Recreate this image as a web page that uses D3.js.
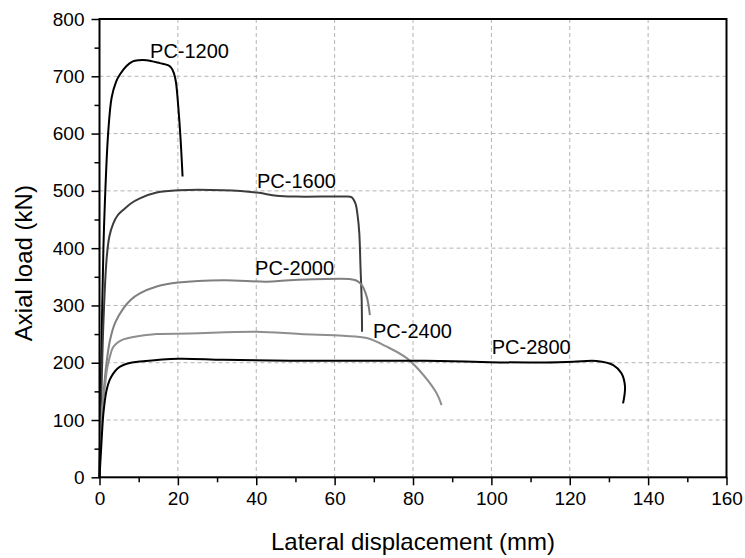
<!DOCTYPE html>
<html>
<head>
<meta charset="utf-8">
<script src="https://cdn.jsdelivr.net/npm/d3@7"></script>
<style>
  body { margin: 0; background: #fff; }
  text { font-family: "Liberation Sans", Arial, sans-serif; }
</style>
</head>
<body>
<div id="chart"></div>
<script>
// series data [lateral displacement (mm), axial load (kN)]
const pc1200 = [[0, 0], [0.4, 180], [0.7, 300], [1.0, 400], [1.4, 485], [2.2, 600], [3.1, 663], [4.2, 690], [5.2, 703],
  [6.9, 718], [8.5, 726], [10, 728], [12, 728], [15.4, 723], [17.6, 719], [18.4, 714], [19.0, 705], [19.5, 690],
  [20.1, 647], [20.7, 589], [21.2, 525]];
const pc1600 = [[0, 0], [0.5, 150], [1.0, 270], [1.8, 380], [2.5, 420], [3.5, 443], [4.6, 457], [6.1, 467], [8, 478],
  [10.3, 487], [14.6, 497], [20.1, 501], [31.6, 501], [40.1, 497], [45.2, 491.5], [50.3, 490], [62.2, 490],
  [64.3, 489], [65.3, 478], [65.9, 455], [66.3, 426], [66.6, 368], [66.9, 309], [67.0, 254]];
const pc2000 = [[0, 0], [0.6, 110], [1.2, 160], [1.8, 200], [2.7, 240], [4.0, 270], [6.1, 295], [8, 310], [10.3, 321],
  [14.6, 333], [20.1, 340], [31.6, 344], [42.6, 341.5], [48.6, 344], [63.9, 346], [65.4, 344], [66.9, 336],
  [68.2, 315], [69.0, 283]];
const pc2400 = [[0, 0], [0.6, 110], [1.4, 160], [2.0, 192], [2.7, 212], [3.4, 226], [4.4, 234], [5.8, 240], [8.6, 245],
  [14.6, 250], [23.1, 251], [40.1, 254], [51.2, 250], [62.2, 247], [68.2, 243], [73.3, 228], [78.4, 208],
  [82.6, 179], [86.0, 147], [87.3, 126]];
const pc2800 = [[0, 0], [0.5, 60], [1.0, 112], [1.8, 152], [2.6, 170], [3.5, 181], [4.6, 190], [6.1, 196], [8, 200],
  [10.3, 202], [20.1, 207], [31.6, 205], [48.6, 203.5], [74.1, 203.5], [86.9, 203], [99.6, 201], [112.4, 200.5],
  [120.9, 201.8], [126.8, 203], [131.1, 196], [133.2, 181.5], [134.1, 158], [133.6, 129]];

const seriesNames = ["PC-1200", "PC-1600", "PC-2000", "PC-2400", "PC-2800"];
const seriesData = [pc1200, pc1600, pc2000, pc2400, pc2800];
const seriesColors = ["#000000", "#3c3c3c", "#7f7f7f", "#8e8e8e", "#000000"];
// label anchors in data units
const labelX = [12.9, 40.2, 39.7, 69.8, 100.1];
const labelY = [732, 505, 353, 243, 216];

const xTicks = [0, 20, 40, 60, 80, 100, 120, 140, 160];
const yTicks = [0, 100, 200, 300, 400, 500, 600, 700, 800];

const W = 745, H = 558;
const margin = { top: 19, right: 18.5, bottom: 80.7, left: 99.5 },
      width = W - margin.left - margin.right,
      height = H - margin.top - margin.bottom;

const svg = d3.select("#chart")
              .append("svg")
              .attr("width", W)
              .attr("height", H)
              .append("g")
              .attr("transform", `translate(${margin.left},${margin.top})`);

const x = d3.scaleLinear().domain([0, 160]).range([0, width]);
const y = d3.scaleLinear().domain([0, 800]).range([height, 0]);

// grid
svg.append("g")
   .selectAll("line")
   .data(xTicks.slice(1, -1))
   .join("line")
   .attr("x1", d => x(d)).attr("x2", d => x(d))
   .attr("y1", 0).attr("y2", height)
   .attr("stroke", "#b4b4b4").attr("stroke-width", 1).attr("stroke-dasharray", "4,3");

svg.append("g")
   .selectAll("line")
   .data(yTicks.slice(1, -1))
   .join("line")
   .attr("y1", d => y(d)).attr("y2", d => y(d))
   .attr("x1", 0).attr("x2", width)
   .attr("stroke", "#b4b4b4").attr("stroke-width", 1).attr("stroke-dasharray", "4,3");

// curves
const line = d3.line()
               .x(d => x(d[0]))
               .y(d => y(d[1]))
               .curve(d3.curveCatmullRom.alpha(0.5));

svg.selectAll(".curve")
   .data(seriesData)
   .join("path")
   .attr("class", "curve")
   .attr("fill", "none")
   .attr("stroke", (d, i) => seriesColors[i])
   .attr("stroke-width", 2)
   .attr("d", d => line(d));

// labels
svg.selectAll(".lbl")
   .data(seriesNames)
   .join("text")
   .attr("class", "lbl")
   .attr("x", (d, i) => x(labelX[i]))
   .attr("y", (d, i) => y(labelY[i]))
   .style("font-size", "20px")
   .text(d => d);

// axes
const xAxis = svg.append("g")
   .attr("transform", `translate(0,${height})`)
   .call(d3.axisBottom(x).tickValues(xTicks).tickSize(8).tickPadding(6));
const xMinor = svg.append("g")
   .attr("transform", `translate(0,${height})`)
   .call(d3.axisBottom(x).tickValues(d3.range(10, 160, 20)).tickSize(5).tickFormat(""));

const yAxis = svg.append("g")
   .call(d3.axisLeft(y).tickValues(yTicks).tickSize(8).tickPadding(7));
const yMinor = svg.append("g")
   .call(d3.axisLeft(y).tickValues(d3.range(50, 800, 100)).tickSize(5).tickFormat(""));

[xAxis, yAxis, xMinor, yMinor].forEach(g => {
  g.select(".domain").remove();
  g.selectAll("line").attr("stroke", "#000").attr("stroke-width", 1.5);
  g.selectAll("text").style("font-size", "19px").attr("fill", "#000")
   .style("font-family", "'Liberation Sans', Arial, sans-serif");
});

// frame
svg.append("rect")
   .attr("x", 0).attr("y", 0)
   .attr("width", width).attr("height", height)
   .attr("fill", "none")
   .attr("stroke", "#000")
   .attr("stroke-width", 2);

// titles
svg.append("text")
   .attr("x", width / 2)
   .attr("y", height + 73)
   .attr("text-anchor", "middle")
   .style("font-size", "24px")
   .text("Lateral displacement (mm)");

svg.append("text")
   .attr("transform", `translate(${-margin.left + 32},${height / 2 + 15}) rotate(-90)`)
   .attr("text-anchor", "middle")
   .style("font-size", "24px")
   .text("Axial load (kN)");
</script>
</body>
</html>
